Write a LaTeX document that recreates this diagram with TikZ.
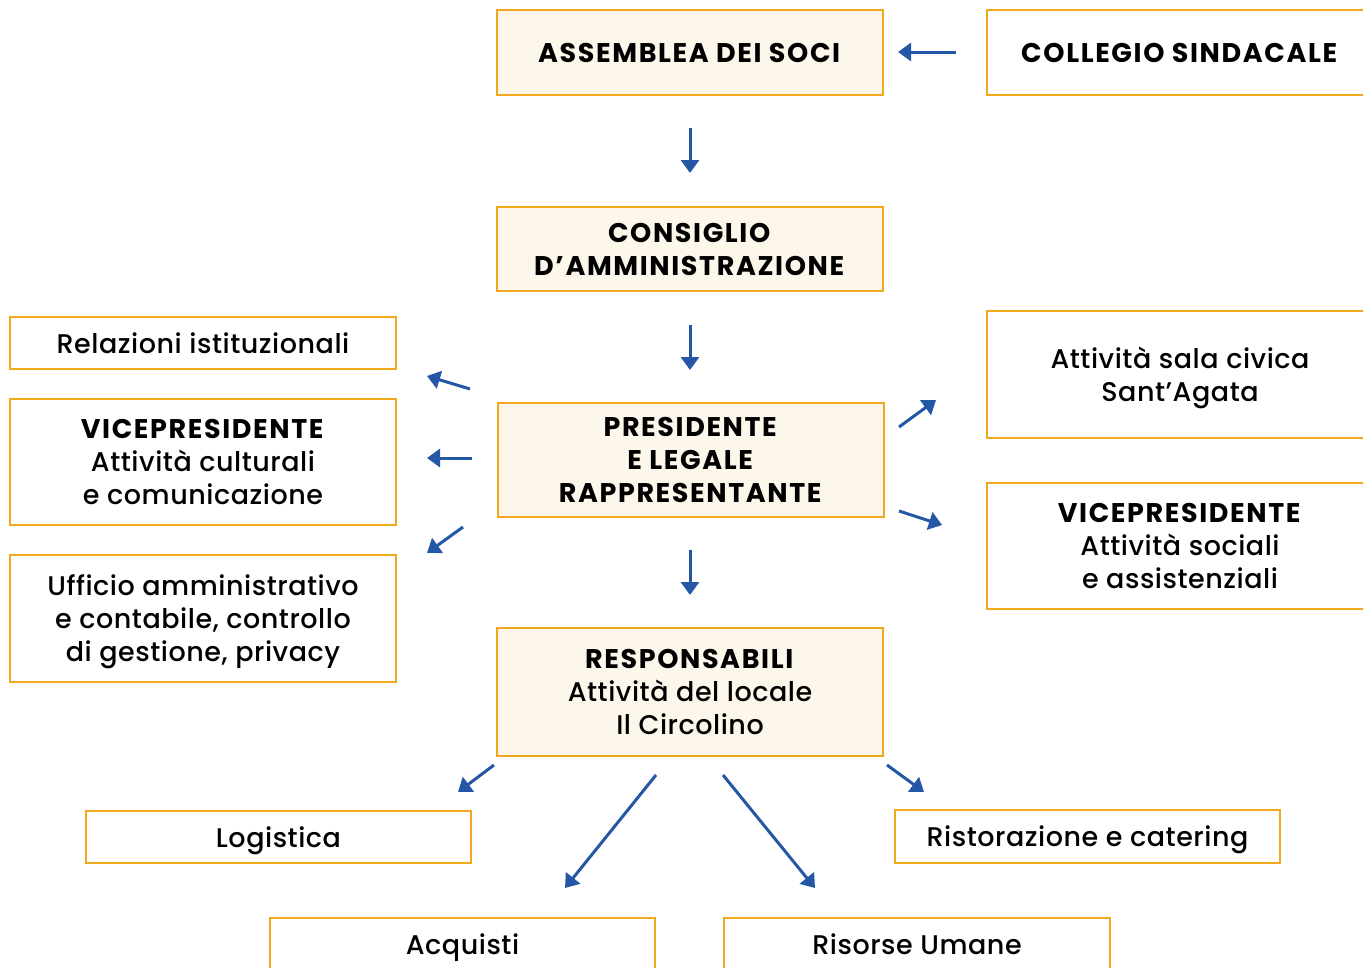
\documentclass[tikz,border=0pt]{standalone}
\usepackage{fontspec}
\setmainfont{Poppins}[UprightFont={* Medium}, BoldFont={* Bold}, LetterSpace=2, BoldFeatures={LetterSpace=6}]
\usetikzlibrary{arrows.meta}

\definecolor{cream}{HTML}{FDF6EA}
\definecolor{gold}{HTML}{F2A81D}
\definecolor{arrowblue}{HTML}{2457A5}

\tikzset{
  box/.style={draw=gold, line width=1.7pt, fill=white, minimum width=386pt, inner sep=0pt,
    align=center, text depth=0pt, font=\fontsize{27}{33}\selectfont},
  mainbox/.style={box, fill=cream},
  arr/.style={draw=arrowblue, line width=3pt, -{Triangle[length=13pt,width=18pt]}}
}

\begin{document}
\begin{tikzpicture}[x=1pt,y=-1pt]
  \useasboundingbox (0,0) rectangle (1363,967);
  \clip (0,0) rectangle (1363,967);
  % central column
  \node[mainbox, minimum height=85pt] (assemblea) at (690,52.5) {\textbf{ASSEMBLEA DEI SOCI}};
  \node[box, minimum height=85pt] (collegio) at (1180,52.5) {\textbf{COLLEGIO SINDACALE}};
  \node[mainbox, minimum height=84pt] (consiglio) at (690,249) {\textbf{CONSIGLIO}\\\textbf{D’AMMINISTRAZIONE}};
  \node[mainbox, minimum height=114pt] (presidente) at (691,460) {\textbf{PRESIDENTE}\\\textbf{E LEGALE}\\\textbf{RAPPRESENTANTE}};
  \node[mainbox, minimum height=128pt] (responsabili) at (690,692) {\textbf{RESPONSABILI}\\Attività del locale\\Il Circolino};
  % left column
  \node[box, minimum height=52pt] (relazioni) at (203,343) {Relazioni istituzionali};
  \node[box, minimum height=126pt] (vicecult) at (203,462) {\textbf{VICEPRESIDENTE}\\Attività culturali\\e comunicazione};
  \node[box, minimum height=127pt] (ufficio) at (203,618.5) {Ufficio amministrativo\\e contabile, controllo\\di gestione, privacy};
  % right column
  \node[box, minimum height=127pt] (sala) at (1180,374.5) {Attività sala civica\\Sant’Agata};
  \node[box, minimum height=126pt] (vicesoc) at (1180,546) {\textbf{VICEPRESIDENTE}\\Attività sociali\\e assistenziali};
  % bottom row
  \node[box, minimum width=385pt, minimum height=52pt] (logistica) at (278.5,837) {Logistica};
  \node[box, minimum width=385pt, minimum height=53pt] (ristorazione) at (1087.5,836.5) {Ristorazione e catering};
  \node[box, minimum width=385pt, minimum height=52pt] (acquisti) at (462.5,944) {Acquisti};
  \node[box, minimum height=52pt] (risorse) at (917,944) {Risorse Umane};

  % arrow ends
  \coordinate (collegio-s) at (956,52);   \coordinate (assemblea-e) at (898,52);
  \coordinate (assemblea-s) at (690,128); \coordinate (consiglio-e) at (690,173);
  \coordinate (consiglio-s) at (690,325); \coordinate (presidente-e) at (690,370);
  \coordinate (pres-rel) at (470,389);    \coordinate (relazioni-e) at (427,376);
  \coordinate (pres-cult) at (472,458);   \coordinate (vicecult-e) at (427,458);
  \coordinate (pres-uff) at (463,527);    \coordinate (ufficio-e) at (427,553);
  \coordinate (pres-sala) at (899,427);   \coordinate (sala-e) at (936,400);
  \coordinate (pres-soc) at (899,511);    \coordinate (vicesoc-e) at (942,525);
  \coordinate (pres-resp) at (690,550);   \coordinate (responsabili-e) at (690,595);
  \coordinate (resp-log) at (494,765);    \coordinate (logistica-e) at (458,792);
  \coordinate (resp-acq) at (656,775);    \coordinate (acquisti-e) at (565,888);
  \coordinate (resp-ris) at (723,775);    \coordinate (risorse-e) at (815,888);
  \coordinate (resp-rist) at (887,765);   \coordinate (ristorazione-e) at (924,792);

  \draw[arr] (collegio-s) -- (assemblea-e);
  \draw[arr] (assemblea-s) -- (consiglio-e);
  \draw[arr] (consiglio-s) -- (presidente-e);
  \draw[arr] (pres-rel) -- (relazioni-e);
  \draw[arr] (pres-cult) -- (vicecult-e);
  \draw[arr] (pres-uff) -- (ufficio-e);
  \draw[arr] (pres-sala) -- (sala-e);
  \draw[arr] (pres-soc) -- (vicesoc-e);
  \draw[arr] (pres-resp) -- (responsabili-e);
  \draw[arr] (resp-log) -- (logistica-e);
  \draw[arr] (resp-acq) -- (acquisti-e);
  \draw[arr] (resp-ris) -- (risorse-e);
  \draw[arr] (resp-rist) -- (ristorazione-e);
\end{tikzpicture}
\end{document}
